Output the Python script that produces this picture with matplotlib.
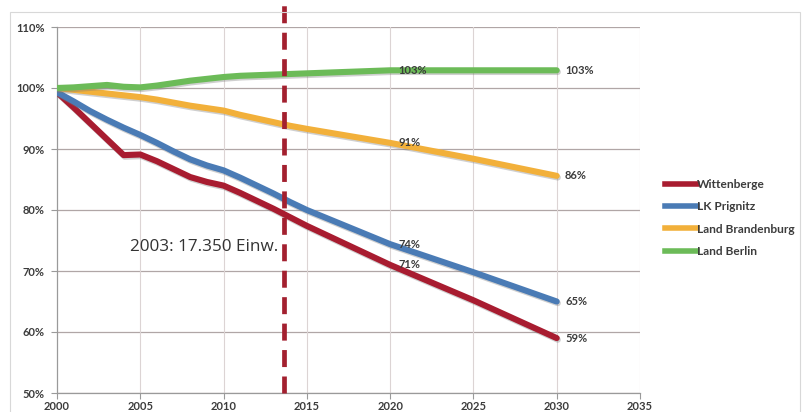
import matplotlib
matplotlib.use("Agg")
import matplotlib.pyplot as plt
import matplotlib.patheffects as pe
from matplotlib.patches import Rectangle
from matplotlib.lines import Line2D

# Population development relative to 2000 (percent)
years = [2000, 2001, 2002, 2003, 2004, 2005, 2006, 2007, 2008, 2009,
         2010, 2011, 2012, 2013, 2014, 2015, 2020, 2025, 2030]
wittenberge = [99.3, 96.8, 94.2, 91.6, 89.0, 89.1, 88.0, 86.7, 85.4, 84.6,
               84.0, 82.8, 81.5, 80.2, 78.8, 77.4, 71.0, 65.2, 59.0]
lk_prignitz = [99.3, 97.8, 96.2, 94.8, 93.5, 92.3, 91.0, 89.6, 88.3, 87.3,
               86.5, 85.3, 84.0, 82.7, 81.3, 80.0, 74.4, 69.8, 65.0]
brandenburg = [100.0, 99.7, 99.4, 99.1, 98.8, 98.5, 98.1, 97.6, 97.1, 96.7,
               96.3, 95.6, 95.0, 94.4, 93.8, 93.3, 91.0, 88.4, 85.6]
berlin = [100.0, 100.1, 100.3, 100.5, 100.2, 100.1, 100.4, 100.8, 101.2, 101.5,
          101.8, 102.0, 102.1, 102.2, 102.3, 102.4, 102.9, 102.9, 102.9]

series_names = ["Wittenberge", "LK Prignitz", "Land Brandenburg", "Land Berlin"]
series_values = [wittenberge, lk_prignitz, brandenburg, berlin]
series_colors = ["#a81c30", "#4a7bb5", "#f2b03a", "#6cbb58"]

label_years = [2020, 2030]
marker_year = 2013.6
note_text = "2003: 17.350 Einw."

x_ticks = [2000, 2005, 2010, 2015, 2020, 2025, 2030, 2035]
y_ticks = [50, 60, 70, 80, 90, 100, 110]

fig = plt.figure(figsize=(8.04, 4.12), dpi=100)
fig.patch.set_facecolor("white")

# light chart-area frame
fig.patches.append(Rectangle((10 / 804, -0.05), 790 / 804, 1.05 - 12 / 412,
                             transform=fig.transFigure, fill=False,
                             edgecolor="#d8d8d8", linewidth=0.8))

ax = fig.add_axes([57 / 804, 19 / 412, 583 / 804, 366 / 412])
ax.set_xlim(2000, 2035)
ax.set_ylim(50, 110)

for y in y_ticks:
    ax.axhline(y, color="#b0a6a6", linewidth=0.9, zorder=1)
for x in x_ticks[1:]:
    ax.axvline(x, color="#dcd4d4", linewidth=0.8, zorder=1)

for sp in ["top", "right"]:
    ax.spines[sp].set_visible(False)
for sp in ["left", "bottom"]:
    ax.spines[sp].set_color("#9a9a9a")
    ax.spines[sp].set_linewidth(0.9)

ax.set_xticks(x_ticks)
ax.set_xticklabels([str(x) for x in x_ticks])
ax.set_yticks(y_ticks)
ax.set_yticklabels([f"{y}%" for y in y_ticks])
ax.tick_params(axis="both", length=4, width=0.8, color="#9a9a9a",
               labelsize=8, labelcolor="#3c3c3c")
ax.tick_params(axis="y", pad=5)
ax.tick_params(axis="x", pad=2)
for lbl in ax.get_xticklabels() + ax.get_yticklabels():
    lbl.set_fontfamily("Lato")
    lbl.set_fontweight("bold")

shadow = [pe.SimpleLineShadow(offset=(0.8, -1.2), shadow_color="#777777", alpha=0.35),
          pe.Normal()]

for name, vals, col in zip(series_names, series_values, series_colors):
    ax.plot(years, vals, color=col, linewidth=4.4, solid_capstyle="round",
            solid_joinstyle="round", path_effects=shadow, zorder=3, label=name)
    for ly in label_years:
        v = vals[years.index(ly)]
        ax.annotate(f"{v:.0f}%", (ly, v), xytext=(6, 0), textcoords="offset points",
                    ha="left", va="center", fontsize=8, color="#3c3c3c",
                    family="Lato", fontweight="bold", zorder=4)

# reference year marker, running up beyond the plot area
ax.plot([marker_year, marker_year], [50, 50 + 60 * 393 / 366], color="#a3202f",
        linewidth=3.4, linestyle=(0, (3.6, 2.0)), clip_on=False, zorder=5)

ax.text(marker_year - 0.3, 73.9, note_text, ha="right", va="center",
        fontsize=12.3, color="#333333", family="Open Sans", zorder=6)

handles = [Line2D([], [], color=c, linewidth=4) for c in series_colors]
leg = fig.legend(handles, series_names, loc="center left",
                 bbox_to_anchor=(665 / 804, 1 - 218 / 412), frameon=False,
                 fontsize=8.6, handlelength=2.7, handletextpad=0.0,
                 labelspacing=0.95, borderaxespad=0, borderpad=0)
for t in leg.get_texts():
    t.set_color("#3c3c3c")
    t.set_fontfamily("Lato")
    t.set_fontweight("bold")

fig.savefig("out.png", dpi=100, facecolor="white")
